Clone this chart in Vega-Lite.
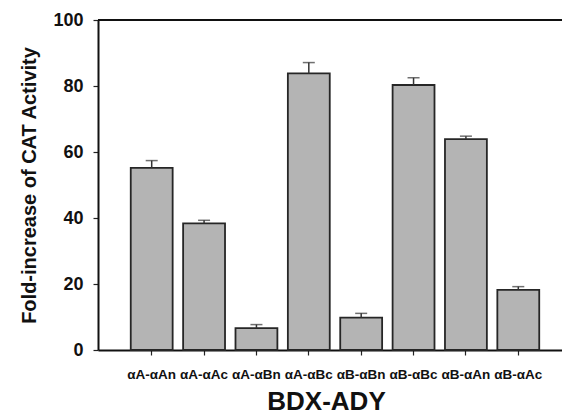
{
  "$schema": "https://vega.github.io/schema/vega-lite/v6.json",
  "autosize": "none",
  "width": 464,
  "height": 330,
  "padding": {"left": 98, "top": 20, "right": 0, "bottom": 66},
  "background": "white",
  "config": {"view": {"stroke": null}, "font": "Liberation Sans"},
  "data": {"values": [
    {"pair": "αA-αAn", "value": 55.2, "upper": 57.4},
    {"pair": "αA-αAc", "value": 38.4, "upper": 39.3},
    {"pair": "αA-αBn", "value": 6.6, "upper": 7.7},
    {"pair": "αA-αBc", "value": 83.8, "upper": 87.1},
    {"pair": "αB-αBn", "value": 9.8, "upper": 11.1},
    {"pair": "αB-αBc", "value": 80.3, "upper": 82.5},
    {"pair": "αB-αAn", "value": 63.9, "upper": 64.8},
    {"pair": "αB-αAc", "value": 18.2, "upper": 19.2}
  ]},
  "encoding": {
    "x": {
      "field": "pair", "type": "nominal", "sort": null,
      "scale": {"paddingInner": 0.2, "paddingOuter": 0.53, "align": 0.59},
      "axis": {
        "title": "BDX-ADY", "titleFontSize": 26, "titleFontWeight": "bold", "titleColor": "#111",
        "titleX": 228, "titleBaseline": "alphabetic", "titleY": 59,
        "labelAngle": 0, "labelFontSize": 13.5, "labelFontWeight": "bold", "labelColor": "#111",
        "labelPadding": 12, "tickSize": 5, "tickColor": "#222", "tickWidth": 1.2,
        "domainColor": "#111", "domainWidth": 2, "labelOverlap": false
      }
    }
  },
  "layer": [
    {
      "mark": {"type": "rule", "color": "#111", "strokeWidth": 2},
      "encoding": {"y": {"datum": 100, "type": "quantitative"}, "x": {"value": 0}, "x2": {"value": 464}}
    },
    {
      "mark": {"type": "bar", "fill": "#b4b4b4", "stroke": "#262626", "strokeWidth": 1.8},
      "encoding": {
        "y": {
          "field": "value", "type": "quantitative",
          "scale": {"domain": [0, 100], "nice": false},
          "axis": {
            "title": "Fold-increase of CAT Activity", "titleFontSize": 20, "titleFontWeight": "bold",
            "titleColor": "#111", "titlePadding": 13,
            "values": [0, 20, 40, 60, 80, 100], "grid": false,
            "labelFontSize": 18, "labelFontWeight": "bold", "labelColor": "#111", "labelPadding": 10,
            "tickSize": 5, "tickColor": "#222", "tickWidth": 1.2,
            "domainColor": "#111", "domainWidth": 2
          }
        }
      }
    },
    {
      "mark": {"type": "rule", "color": "#333", "strokeWidth": 1.5},
      "encoding": {"y": {"field": "value", "type": "quantitative"}, "y2": {"field": "upper"}}
    },
    {
      "mark": {"type": "tick", "color": "#333", "thickness": 1.5, "size": 12},
      "encoding": {"y": {"field": "upper", "type": "quantitative"}}
    }
  ]
}
